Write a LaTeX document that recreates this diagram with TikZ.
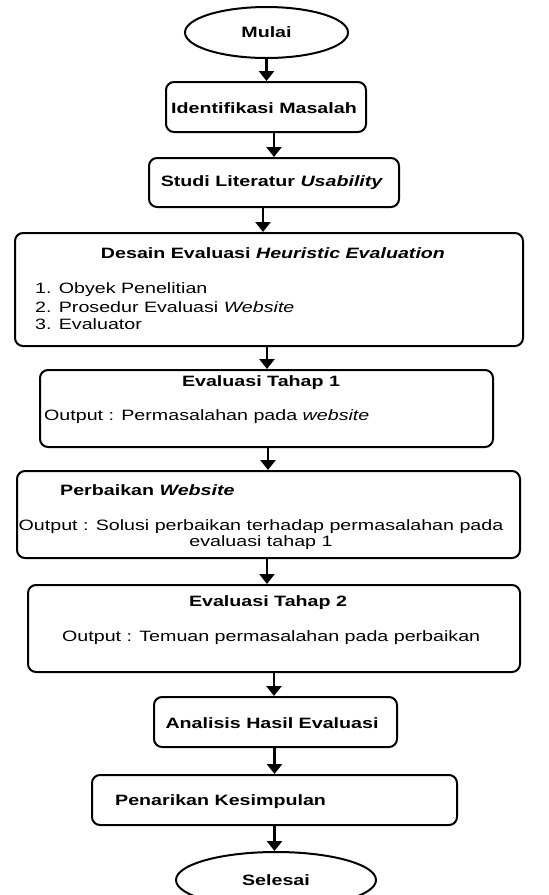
\documentclass[tikz,border=0pt]{standalone}
\usepackage{fontspec}
\setmainfont[FakeStretch=1.31]{Liberation Sans}
\usetikzlibrary{shapes.geometric,arrows.meta}
\tikzset{
  box/.style={draw=black,line width=2pt,rounded corners=8pt,inner sep=0pt},
  oval/.style={draw=black,line width=2pt,ellipse,inner sep=0pt,font=\fontsize{15}{17}\selectfont\bfseries},
  txt/.style={inner sep=0pt,font=\fontsize{15}{17}\selectfont},
  btxt/.style={inner sep=0pt,font=\fontsize{15}{17}\selectfont\bfseries},
  arr/.style={line width=2.8pt,-{Triangle[length=10pt,width=15pt]}},
}
\begin{document}
\begin{tikzpicture}[x=1pt,y=-1pt]
\useasboundingbox (0,0) rectangle (549,895);
% shapes
\node[oval,minimum width=163pt,minimum height=51pt] (mulai) at (266.5,32.5) {Mulai};
\node[box,minimum width=200pt,minimum height=50pt] (ident) at (266,107) {};
\node[box,minimum width=250pt,minimum height=49pt] (studi) at (274,182.5) {};
\node[box,minimum width=508pt,minimum height=113pt] (desain) at (269,289.5) {};
\node[box,minimum width=453pt,minimum height=77pt] (eval1) at (266.5,408.5) {};
\node[box,minimum width=503pt,minimum height=87pt] (perb) at (268.5,514.5) {};
\node[box,minimum width=492pt,minimum height=87pt] (eval2) at (274,628.5) {};
\node[box,minimum width=243pt,minimum height=50pt] (anal) at (275.5,722) {};
\node[box,minimum width=365pt,minimum height=50pt] (penar) at (274.5,800) {};
\node[oval,minimum width=200pt,minimum height=56pt] (selesai) at (276,880) {Selesai};
% texts
\node[btxt] (tident) at (264,108) {Identifikasi Masalah};
\node[btxt] (tstudi) at (272,183) {Studi Literatur \textit{Usability}};
\node[btxt] (tdesain) at (273,253) {Desain Evaluasi \textit{Heuristic Evaluation}};
\node[txt,anchor=west] (l1) at (35,290) {1. Obyek Penelitian};
\node[txt,anchor=west] (l2) at (35,307) {2. Prosedur Evaluasi \textit{Website}};
\node[txt,anchor=west] (l3) at (35,324) {3. Evaluator};
\node[btxt] (teval1) at (261,383) {Evaluasi Tahap 1};
\node[txt,anchor=west] (oeval1) at (44,417) {Output : Permasalahan pada \textit{website}};
\node[btxt,anchor=west] (tperb) at (60,490) {Perbaikan \textit{Website}};
\node[txt] (operb1) at (261,527) {Output : Solusi perbaikan terhadap permasalahan pada};
\node[txt] (operb2) at (261,543) {evaluasi tahap 1};
\node[btxt] (teval2) at (268,603) {Evaluasi Tahap 2};
\node[txt,anchor=west] (oeval2) at (62,638) {Output : Temuan permasalahan pada perbaikan};
\node[btxt] (tanal) at (272,723) {Analisis Hasil Evaluasi};
\node[btxt,anchor=west] (tpenar) at (115,802) {Penarikan Kesimpulan};
% connectors
\draw[arr] (mulai.south) -- (mulai.south |- ident.north);
\draw[arr] (ident.south -| studi.north) -- (studi.north);
\draw[arr] ([xshift=-11pt]studi.south) -- ([xshift=-11pt]studi.south |- desain.north);
\draw[arr] ([xshift=-2pt]desain.south) -- ([xshift=-2pt]desain.south |- eval1.north);
\draw[arr] ([xshift=1.5pt]eval1.south) -- ([xshift=1.5pt]eval1.south |- perb.north);
\draw[arr] ([xshift=-1.5pt]perb.south) -- ([xshift=-1.5pt]perb.south |- eval2.north);
\draw[arr] (eval2.south) -- (eval2.south |- anal.north);
\draw[arr] (anal.south -| penar.north) -- (penar.north);
\draw[arr] (penar.south) -- (penar.south |- selesai.north);
\end{tikzpicture}
\end{document}
